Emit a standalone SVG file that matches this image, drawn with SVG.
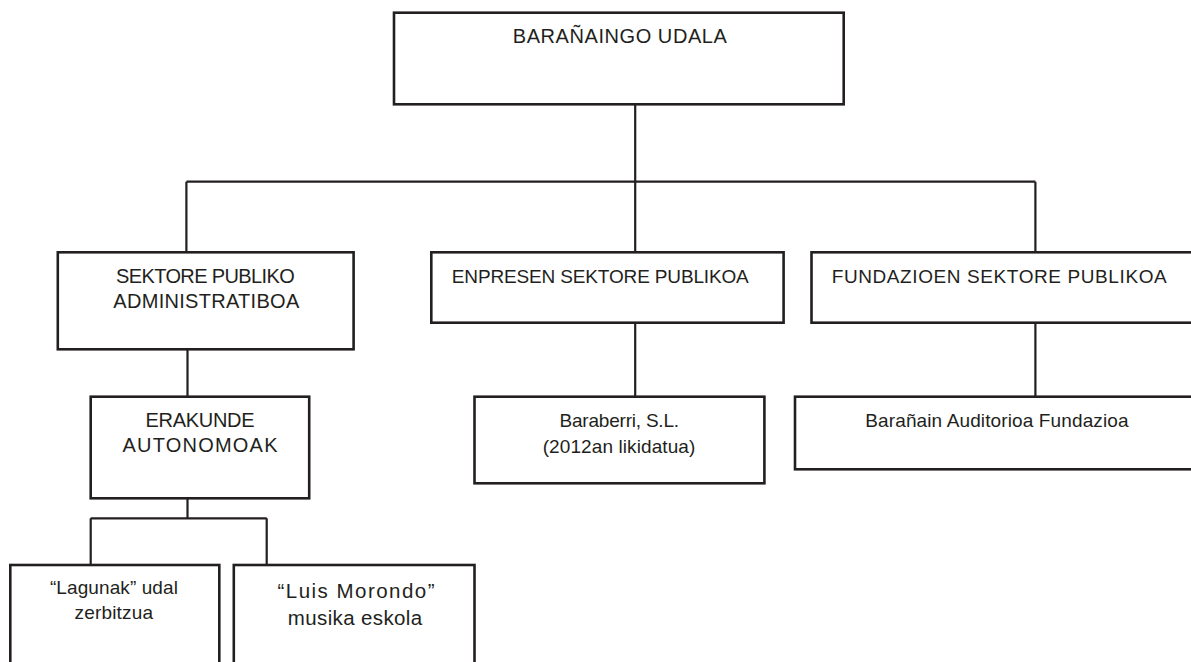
<svg xmlns="http://www.w3.org/2000/svg" width="1191" height="662" viewBox="0 0 1191 662">
<style>
.box{fill:#fff;stroke:#231f20;stroke-width:2.6}
.ln{fill:none;stroke:#231f20;stroke-width:2.2}
text{font-family:"Liberation Sans",Arial,sans-serif;font-size:19px;fill:#231f20;text-anchor:middle}
.cap{font-size:20px}
.big{font-size:20.5px}
</style>
<rect width="1191" height="662" fill="#fff"/>
<g id="connectors">
<path class="ln" d="M635.2,104.3V181.7M186.4,181.7H1035.4M186.4,181.7V252.3M635.2,181.7V252.3M1035.4,181.7V252.3"/>
<path class="ln" d="M187.5,349.3V396.7M635.2,322.7V396.7M1035.4,322.7V396.7"/>
<path class="ln" d="M187.5,498.3V518.3M90.7,518.3H266.7M90.7,518.3V565M266.7,518.3V565"/>
</g>
<g id="udala">
<rect class="box" x="394" y="12.7" width="449.7" height="91.6"/>
<text class="cap" x="619.8" y="42.7" textLength="214" lengthAdjust="spacing">BARAÑAINGO UDALA</text>
</g>
<g id="sektore-admin">
<rect class="box" x="57.8" y="252.3" width="295.8" height="97"/>
<text class="cap" x="205.4" y="283.3" textLength="178.7" lengthAdjust="spacing">SEKTORE PUBLIKO</text>
<text class="cap" x="206.3" y="308.3" textLength="186" lengthAdjust="spacing">ADMINISTRATIBOA</text>
</g>
<g id="enpresen">
<rect class="box" x="431.3" y="252.3" width="352.3" height="70.4"/>
<text x="600.3" y="283.3" textLength="297" lengthAdjust="spacing">ENPRESEN SEKTORE PUBLIKOA</text>
</g>
<g id="fundazioen">
<rect class="box" x="811.5" y="252.3" width="390" height="70.4"/>
<text x="999.2" y="283.3" textLength="335" lengthAdjust="spacing">FUNDAZIOEN SEKTORE PUBLIKOA</text>
</g>
<g id="erakunde">
<rect class="box" x="90.7" y="396.7" width="218.5" height="101.6"/>
<text class="cap" x="200" y="426.7" textLength="109" lengthAdjust="spacing">ERAKUNDE</text>
<text class="cap" x="200" y="452.3" textLength="155" lengthAdjust="spacing">AUTONOMOAK</text>
</g>
<g id="baraberri">
<rect class="box" x="474.5" y="396.7" width="289.9" height="86.6"/>
<text x="619.3" y="426.7" textLength="119.5" lengthAdjust="spacing">Baraberri, S.L.</text>
<text x="619" y="452.5" textLength="152.7" lengthAdjust="spacing">(2012an likidatua)</text>
</g>
<g id="auditorioa">
<rect class="box" x="795" y="396.7" width="406" height="72.6"/>
<text x="996.9" y="426.7" textLength="263.3" lengthAdjust="spacing">Barañain Auditorioa Fundazioa</text>
</g>
<g id="lagunak">
<rect class="box" x="10.3" y="565" width="209" height="110"/>
<text x="113.9" y="594.3" textLength="128" lengthAdjust="spacing">“Lagunak” udal</text>
<text x="113.8" y="619.3" textLength="78.5" lengthAdjust="spacing">zerbitzua</text>
</g>
<g id="morondo">
<rect class="box" x="233.8" y="565" width="240.7" height="110"/>
<text class="big" x="356" y="597.7" textLength="157" lengthAdjust="spacing">“Luis Morondo”</text>
<text class="big" x="355" y="625" textLength="134.3" lengthAdjust="spacing">musika eskola</text>
</g>
</svg>
